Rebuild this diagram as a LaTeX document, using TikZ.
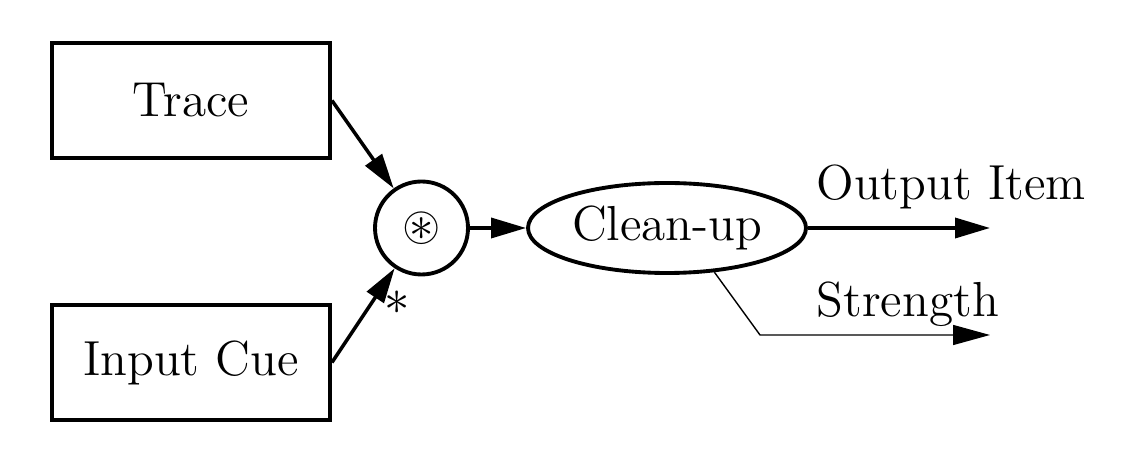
\documentclass[tikz,border=0pt]{standalone}
\usepackage{amssymb}
\usepackage{tikz}
\usetikzlibrary{shapes.geometric, arrows.meta}

\begin{document}
\begin{tikzpicture}[font=\fontsize{14}{16}\selectfont,
    box/.style={draw, line width=1.1pt, minimum width=2.78cm, minimum height=1.15cm},
    arr/.style={line width=1pt, -{Triangle[length=0.35cm, width=0.2cm]}},
    thinarr/.style={line width=0.4pt, -{Triangle[length=0.37cm, width=0.2cm]}}]
    \useasboundingbox (0,0) rectangle (11.44,4.68);
    \node[box] (trace) at (1.91,3.675) {Trace};
    \node[box] (cue) at (1.91,1.055) {Input Cue};
    \node[draw, circle, line width=1.1pt, minimum size=0.93cm, inner sep=0pt] (conv) at (4.215,2.40) {$\circledast$};
    \node[draw, ellipse, line width=1.1pt, minimum width=2.78cm, minimum height=0.9cm, inner sep=0pt] (cleanup) at (6.67,2.40) {Clean-up};
    \coordinate (itemend) at (9.90,2.40);
    \coordinate (bend) at (7.60,1.33);
    \coordinate (strengthend) at (9.90,1.33);
    \draw[arr] (trace.east) -- (conv);
    \draw[arr] (cue.east) -- (conv);
    \draw[arr] (conv) -- (cleanup);
    \draw[arr] (cleanup) -- (itemend);
    \draw[thinarr] (cleanup.-43) -- (bend) -- (strengthend);
    \node (star) at (3.97,1.65) {$\ast$};
    \node[anchor=base west, inner sep=0pt] (itemlabel) at (8.16,2.68) {Output Item};
    \node[anchor=base west, inner sep=0pt] (strengthlabel) at (8.16,1.51) {Strength};
\end{tikzpicture}
\end{document}
